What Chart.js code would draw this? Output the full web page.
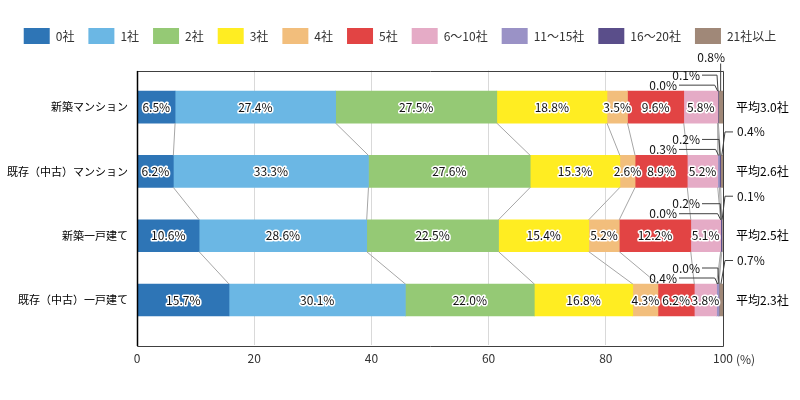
<!DOCTYPE html>
<html lang="ja">
<head>
<meta charset="UTF-8">
<title>Chart</title>
<script src="https://cdn.jsdelivr.net/npm/chart.js"></script>
<style>
    html, body { margin: 0; padding: 0; background: #fff; }
    #wrap { width: 800px; height: 400px; }
</style>
</head>
<body>
<div id="wrap"><canvas id="myChart"></canvas></div>
<script>
    var categories = ['新築マンション', '既存（中古）マンション', '新築一戸建て', '既存（中古）一戸建て'];
    var seriesNames = ['0社', '1社', '2社', '3社', '4社', '5社', '6～10社', '11～15社', '16～20社', '21社以上'];
    var seriesColors = ['#2e75b6', '#6bb7e4', '#95c975', '#ffed22', '#f2be7c', '#e24444', '#e5abc6', '#9a92c6', '#5a4e8a', '#a08878'];

    // % per row, in the order of seriesNames
    var shinchikuMansion = [6.5, 27.4, 27.5, 18.8, 3.5, 9.6, 5.8, 0.0, 0.1, 0.8];
    var kizonMansion = [6.2, 33.3, 27.6, 15.3, 2.6, 8.9, 5.2, 0.3, 0.2, 0.4];
    var shinchikuKodate = [10.6, 28.6, 22.5, 15.4, 5.2, 12.2, 5.1, 0.0, 0.2, 0.1];
    var kizonKodate = [15.7, 30.1, 22.0, 16.8, 4.3, 6.2, 3.8, 0.4, 0.0, 0.7];
    var averages = ['平均3.0社', '平均2.6社', '平均2.5社', '平均2.3社'];
    var xTicks = [0, 20, 40, 60, 80, 100];

    var rows = [shinchikuMansion, kizonMansion, shinchikuKodate, kizonKodate];
    var FONT = '"Noto Sans CJK JP", "Noto Sans", sans-serif';

    var datasets = seriesNames.map(function(name, s){
        return {
            label: name,
            data: rows.map(function(r, i){ return {x: r[s], y: i}; }),
            backgroundColor: seriesColors[s],
            borderWidth: 0,
            barThickness: 32
        };
    });

    // push the plot box down a bit below the legend
    var legendSpace = {
        id: 'legendSpace',
        beforeInit: function(chart){
            var fit = chart.legend.fit;
            chart.legend.fit = function(){
                fit.bind(chart.legend)();
                this.height += 16.5;
            };
        }
    };

    var annotate = {
        id: 'annotate',
        afterDatasetsDraw: function(chart){
            var ctx = chart.ctx;
            var area = chart.chartArea;
            var metas = datasets.map(function(d, s){ return chart.getDatasetMeta(s); });
            ctx.save();

            // series lines between the rows
            ctx.strokeStyle = '#a6a6a6';
            ctx.lineWidth = 1;
            for(var s = 0; s < metas.length - 1; s++){
                var b = metas[s].data;
                for(var i = 0; i < b.length - 1; i++){
                    ctx.beginPath();
                    ctx.moveTo(b[i].x, b[i].y + b[i].height / 2);
                    ctx.lineTo(b[i + 1].x, b[i + 1].y - b[i + 1].height / 2);
                    ctx.stroke();
                }
            }

            // plot box
            ctx.strokeStyle = '#404040';
            ctx.beginPath();
            ctx.rect(Math.round(area.left) + 0.5, Math.round(area.top) + 0.5,
                Math.round(area.right - area.left), Math.round(area.bottom - area.top));
            ctx.stroke();
            ctx.strokeStyle = '#000';
            ctx.lineWidth = 1.5;
            ctx.beginPath();
            ctx.moveTo(Math.round(area.left) + 0.5, Math.round(area.top));
            ctx.lineTo(Math.round(area.left) + 0.5, Math.round(area.bottom) + 1);
            ctx.stroke();

            ctx.font = '12px ' + FONT;
            ctx.textBaseline = 'middle';
            ctx.lineJoin = 'round';

            // labels inside the segments
            ctx.textAlign = 'center';
            for(var s = 0; s < 7; s++){
                metas[s].data.forEach(function(bar, i){
                    var txt = rows[i][s].toFixed(1) + '%';
                    var cx = (bar.x + bar.base) / 2;
                    ctx.strokeStyle = '#fff';
                    ctx.lineWidth = 3;
                    ctx.strokeText(txt, cx, bar.y);
                    ctx.fillStyle = '#111';
                    ctx.fillText(txt, cx, bar.y);
                });
            }

            // small segments with leader lines
            ctx.lineWidth = 1;
            for(var i = 0; i < rows.length; i++){
                var b7 = metas[7].data[i], b8 = metas[8].data[i], b9 = metas[9].data[i];
                var top = b7.y - b7.height / 2;
                ctx.strokeStyle = '#404040';
                ctx.fillStyle = '#111';

                var sx = (b7.x + b7.base) / 2, ly = top - 6, rx = area.right - 46;
                ctx.textAlign = 'right';
                ctx.fillText(rows[i][7].toFixed(1) + '%', rx, ly);
                ctx.beginPath();
                ctx.moveTo(rx + 2, ly); ctx.lineTo(sx - 3, ly); ctx.lineTo(sx, top);
                ctx.stroke();

                sx = (b8.x + b8.base) / 2; ly = top - 16; rx = area.right - 23;
                ctx.fillText(rows[i][8].toFixed(1) + '%', rx, ly);
                ctx.beginPath();
                ctx.moveTo(rx + 2, ly); ctx.lineTo(sx - 1, ly); ctx.lineTo(sx, top);
                ctx.stroke();

                sx = (b9.x + b9.base) / 2;
                if(i === 0){
                    ly = area.top - 13;
                    ctx.fillText(rows[i][9].toFixed(1) + '%', area.right + 2, ly);
                    ctx.beginPath();
                    ctx.moveTo(sx, area.top - 7); ctx.lineTo(sx, top);
                    ctx.stroke();
                } else {
                    ly = top - 23.5;
                    ctx.textAlign = 'left';
                    ctx.fillText(rows[i][9].toFixed(1) + '%', area.right + 14, ly);
                    ctx.beginPath();
                    ctx.moveTo(area.right + 10, ly); ctx.lineTo(area.right + 2, ly); ctx.lineTo(sx, top);
                    ctx.stroke();
                }
            }

            // averages on the right
            ctx.textAlign = 'left';
            ctx.fillStyle = '#000';
            metas[0].data.forEach(function(bar, i){
                ctx.fillText(averages[i], area.right + 13, bar.y);
            });

            // unit after the last tick
            ctx.fillStyle = '#333';
            ctx.fillText('(%)', area.right + 13, area.bottom + 14);
            ctx.restore();
        }
    };

    new Chart(document.getElementById('myChart'), {
        type: 'bar',
        data: { datasets: datasets },
        plugins: [legendSpace, annotate],
        options: {
            indexAxis: 'y',
            responsive: true,
            maintainAspectRatio: false,
            animation: false,
            layout: { padding: { top: 14, right: 0, bottom: 0, left: 0 } },
            plugins: {
                legend: {
                    position: 'top',
                    labels: {
                        boxWidth: 26,
                        boxHeight: 16,
                        padding: 14,
                        color: '#333',
                        font: { family: FONT, size: 12 }
                    }
                },
                tooltip: { enabled: false }
            },
            scales: {
                x: {
                    type: 'linear',
                    stacked: true,
                    min: 0,
                    max: 100,
                    afterBuildTicks: function(scale){
                        scale.ticks = xTicks.map(function(v){ return {value: v}; });
                    },
                    afterFit: function(scale){ scale.height = 55; },
                    grid: { color: '#d9d9d9', drawTicks: false },
                    border: { display: false },
                    ticks: { padding: 6, color: '#333', font: { family: FONT, size: 12 } }
                },
                y: {
                    type: 'linear',
                    stacked: true,
                    reverse: true,
                    offset: false,
                    min: -0.57,
                    max: 3.7,
                    afterBuildTicks: function(scale){
                        scale.ticks = categories.map(function(c, i){ return {value: i}; });
                    },
                    afterFit: function(scale){ scale.width = 137; },
                    grid: { display: false, drawTicks: false },
                    border: { display: false },
                    ticks: {
                        padding: 9,
                        color: '#000',
                        font: { family: FONT, size: 11 },
                        callback: function(v){ return categories[v]; }
                    }
                },
                // empty strip on the right for the averages
                side: {
                    type: 'linear',
                    position: 'right',
                    grid: { display: false, drawTicks: false },
                    border: { display: false },
                    ticks: { display: false },
                    afterFit: function(scale){ scale.width = 77; }
                }
            }
        }
    });
</script>
</body>
</html>
